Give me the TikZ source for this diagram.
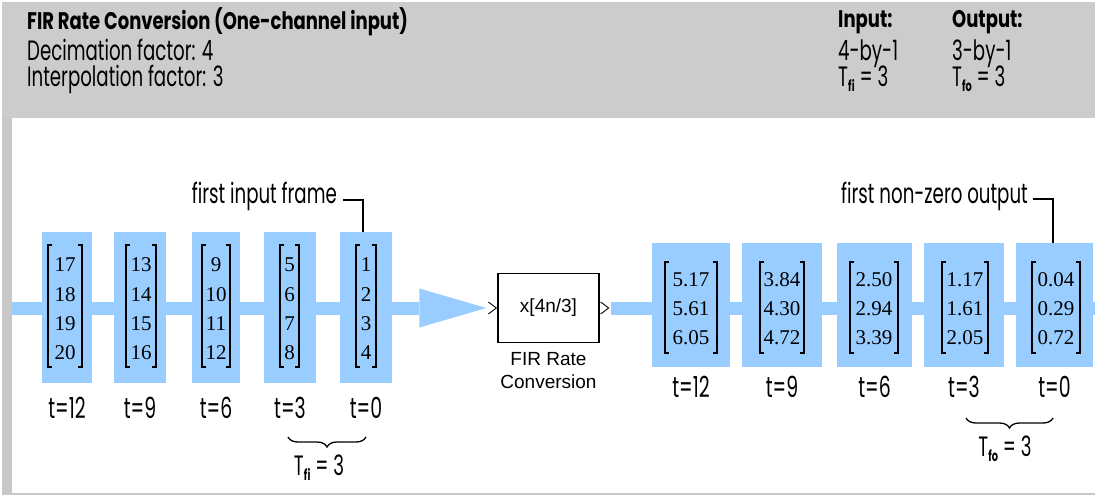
\documentclass[tikz,border=0pt]{standalone}
\usepackage{fontspec}
\setmainfont{Liberation Serif}
\newfontfamily\cf[FakeStretch=0.65]{Poppins}
\newfontfamily\cfb[FakeStretch=0.75]{Poppins}
\newfontfamily\hv{Liberation Sans}
\usetikzlibrary{arrows.meta,decorations.pathreplacing,calc}
\definecolor{flowblue}{HTML}{99CCFF}
\definecolor{hdrgray}{HTML}{CCCCCC}
\definecolor{edgegray}{HTML}{C8C8C8}
\newcommand{\mybrk}[4]{%
  \draw[brk] ({#1+4},#3) -- (#1,#3) -- (#1,#4) -- ({#1+4},#4);
  \draw[brk] ({#2-4},#3) -- (#2,#3) -- (#2,#4) -- ({#2-4},#4);}
\newcommand{\subfi}{\raisebox{-5pt}{\fontsize{15}{15}\selectfont\bfseries f\kern0.3pt i}}
\newcommand{\subfo}{\raisebox{-5pt}{\fontsize{15}{15}\selectfont\bfseries fo}}
\begin{document}
\begin{tikzpicture}[x=1pt,y=-1pt,
  flow/.style={draw=flowblue, line width=13pt},
  inframe/.style={fill=flowblue, draw=none, inner sep=0, minimum height=151pt},
  outframe/.style={fill=flowblue, draw=none, inner sep=0, minimum height=124pt},
  num/.style={font=\fontsize{21}{21}\selectfont, inner sep=0},
  tlab/.style={font=\cf\fontsize{29}{29}\selectfont, inner sep=0},
  brk/.style={line width=1.3pt, black},
  callout/.style={line width=1.3pt, black},
  port/.style={line width=0.9pt, black},
  firbox/.style={draw, line width=1.3pt, fill=white, minimum width=101pt, minimum height=69pt, inner sep=0, font=\hv\fontsize{19}{19}\selectfont},
  hdr/.style={font=\cf\fontsize{28}{28}\selectfont, anchor=base west, inner sep=0},
  hdrb/.style={font=\cfb\bfseries\fontsize{24}{24}\selectfont, anchor=base west, inner sep=0},
  note/.style={font=\cf\fontsize{28}{28}\selectfont, inner sep=0},
  bracedec/.style={line width=1.3pt, decorate, decoration={brace, mirror, amplitude=10pt}}
]
\useasboundingbox (0,0) rectangle (1095,495);
% frame
\fill[hdrgray] (2,2) rectangle (1095,118);
\fill[edgegray] (2,118) rectangle (12,495);
\fill[edgegray] (2,493) rectangle (1095,495);

% header texts
\node[hdrb] (title) at (27,30) {FIR Rate Conversion (One-channel input)};
\node[hdr] (dec) at (27,60) {Decimation factor: 4};
\node[hdr] (int) at (27,87) {Interpolation factor: 3};
\node[hdrb] (inh) at (838,28) {Input:};
\node[hdrb] (outh) at (952,28) {Output:};
\node[hdr] (insz) at (838,60) {4-by-1};
\node[hdr] (outsz) at (952,60) {3-by-1};
\node[hdr] (intf) at (838,87) {T\subfi\ = 3};
\node[hdr] (outtf) at (952,87) {T\subfo\ = 3};

% block
\node[firbox] (fir) at (548.5,308) {x[4n/3]};
\node[font=\hv\fontsize{19}{23}\selectfont, align=center, anchor=north, inner sep=0] (firlab) at ($(fir.south)+(0,9)$) {FIR Rate\\Conversion};
\draw[port] ($(fir.west)+(-9,-6)$) -- ($(fir.west)+(-1,0)$) -- ($(fir.west)+(-9,6)$);
\draw[port] ($(fir.east)+(1,-6)$) -- ($(fir.east)+(9,0)$) -- ($(fir.east)+(1,6)$);

% flow lines
\coordinate (inStart) at (12,308);
\coordinate (outEnd) at (1095,308);
\draw[flow, -{Triangle[length=67pt, width=39pt, line width=0pt]}, shorten >=11pt] (inStart) -- (fir.west);
\draw[flow] ([xshift=11pt]fir.east) -- (outEnd);

% input frames
\foreach \n/\cx/\w/\bl/\br/\a/\b/\c/\d/\t in {1/67/50/48/82/17/18/19/20/12, 2/140/52/126/156/13/14/15/16/9, 3/216/48/202/230/9/10/11/12/6, 4/290/52/280/299/5/6/7/8/3, 5/366/52/356/376/1/2/3/4/0}{
  \pgfmathsetmacro{\mx}{(\bl+\br)/2}
  \node[inframe, minimum width=\w pt] (in\n) at (\cx,307.5) {};
  \mybrk{\bl}{\br}{245}{367}
  \node[num] (in\n a) at (\mx,265) {\a};
  \node[num] (in\n b) at (\mx,295) {\b};
  \node[num] (in\n c) at (\mx,324) {\c};
  \node[num] (in\n d) at (\mx,353) {\d};
  \node[tlab] (int\n) at (\cx,408) {t=\t};
}

% output frames
\foreach \n/\cx/\w/\bl/\br/\a/\b/\c/\t in {1/691/78/665/717/5.17/5.61/6.05/12, 2/782/80/760/804/3.84/4.30/4.72/9, 3/874.5/75/850/898/2.50/2.94/3.39/6, 4/964/80/942/988/1.17/1.61/2.05/3, 5/1054.5/77/1032/1080/0.04/0.29/0.72/0}{
  \pgfmathsetmacro{\mx}{(\bl+\br)/2}
  \node[outframe, minimum width=\w pt] (out\n) at (\cx,305) {};
  \mybrk{\bl}{\br}{262}{353}
  \node[num] (out\n a) at (\mx,280) {\a};
  \node[num] (out\n b) at (\mx,309) {\b};
  \node[num] (out\n c) at (\mx,338) {\c};
  \node[tlab] (outt\n) at (\cx,387) {t=\t};
}

% callouts
\node[note, anchor=base east] (fif) at (337,203) {first input frame};
\draw[callout] ($(fif.base east)+(6,-3)$) -| ([xshift=-3pt]in5.north);
\node[note, anchor=base east] (fnz) at (1028,203) {first non-zero output};
\draw[callout] ($(fnz.base east)+(5,-4)$) -| ([xshift=-1.5pt]out5.north);

% braces
\coordinate (bi1) at (288,437);
\coordinate (bi2) at (366,437);
\draw[bracedec] (bi1) -- (bi2);
\node[note] (tfi) at (319,468) {T\subfi\ = 3};
\coordinate (bo1) at (966,418);
\coordinate (bo2) at (1053,418);
\draw[bracedec] (bo1) -- (bo2);
\node[note] (tfo) at (1005,449) {T\subfo\ = 3};
\end{tikzpicture}
\end{document}
